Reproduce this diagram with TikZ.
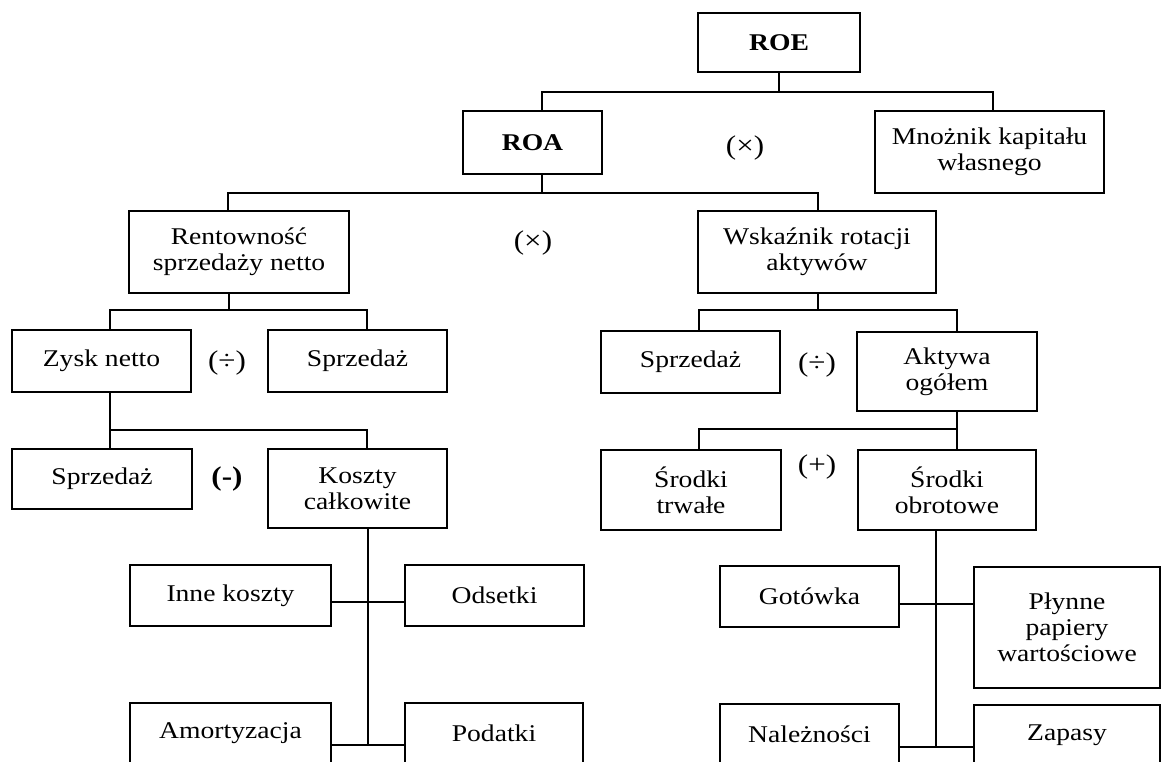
\documentclass[tikz,border=0pt]{standalone}
\usepackage{fontspec}
\setmainfont{Liberation Serif}[FakeStretch=1.15]
\begin{document}
\begin{tikzpicture}[x=1pt,y=-1pt,
  box/.style={draw, line width=1.7pt, inner sep=0pt, align=center, font=\fontsize{24}{26}\selectfont},
  conn/.style={line width=1.3pt},
  op/.style={inner sep=0pt, font=\fontsize{27}{28}\selectfont}]
\clip (0,0) rectangle (1162,762);
\fill[white] (0,0) rectangle (1162,762);
% level 0-1
\node[box, minimum width=162pt, minimum height=59pt] (roe) at (779,42.5) {\textbf{ROE}};
\node[box, minimum width=139pt, minimum height=63pt] (roa) at (532.5,142.5) {\textbf{ROA}};
\node[box, minimum width=229pt, minimum height=82pt] (mno) at (989.5,152) {Mnożnik kapitału\\własnego};
\node[op] (x1) at (745,148) {(×)};
% level 2
\node[box, minimum width=220pt, minimum height=82pt] (ren) at (239,252) {Rentowność\\sprzedaży netto};
\node[box, minimum width=238pt, minimum height=82pt] (wsk) at (817,252) {Wskaźnik rotacji\\aktywów};
\node[op] (x2) at (533,243) {(×)};
% level 3
\node[box, minimum width=179pt, minimum height=62pt] (zysk) at (101.5,361) {Zysk netto};
\node[box, minimum width=179pt, minimum height=62pt] (sp1) at (357.5,361) {Sprzedaż};
\node[op] (d1) at (227,363) {(÷)};
\node[box, minimum width=179pt, minimum height=62pt] (sp2) at (690.5,362) {Sprzedaż};
\node[box, minimum width=180pt, minimum height=79pt] (akt) at (947,371.5) {Aktywa\\ogółem};
\node[op] (d2) at (817,365) {(÷)};
% level 4
\node[box, minimum width=180pt, minimum height=60pt] (sp3) at (102,479) {Sprzedaż};
\node[box, minimum width=179pt, minimum height=79pt] (kos) at (357.5,488.5) {Koszty\\całkowite};
\node[op] (m1) at (227,479) {\textbf{(-)}};
\node[box, minimum width=180pt, minimum height=80pt] (st) at (691,490) {Środki\\trwałe};
\node[box, minimum width=178pt, minimum height=80pt] (so) at (947,490) {Środki\\obrotowe};
\node[op] (p1) at (817,467) {(+)};
% level 5
\node[box, minimum width=201pt, minimum height=61pt] (inne) at (230.5,595.5) {Inne koszty};
\node[box, minimum width=179pt, minimum height=61pt] (ods) at (494.5,595.5) {Odsetki};
\node[box, minimum width=179pt, minimum height=61pt] (got) at (809.5,596.5) {Gotówka};
\node[box, minimum width=186pt, minimum height=121pt] (pap) at (1067,627.5) {Płynne\\papiery\\wartościowe};
% level 6 (cut off at the bottom)
\node[box, minimum width=201pt, minimum height=61pt] (amo) at (230.5,733.5) {Amortyzacja};
\node[box, minimum width=178pt, minimum height=61pt] (pod) at (494,733.5) {Podatki};
\node[box, minimum width=179pt, minimum height=61pt] (nal) at (809.5,734.5) {Należności};
\node[box, minimum width=186pt, minimum height=61pt] (zap) at (1067,735.5) {Zapasy};
% junctions
\coordinate (j1) at (779,92);
\coordinate (j2) at (542,193);
\coordinate (j3) at (229,310);
\coordinate (j4) at (818,310);
\coordinate (j5) at (110,430);
\coordinate (j6) at (957,429);
\coordinate (j7) at (368,745);
\coordinate (j8) at (936,747);
% connectors
\draw[conn] (roe.south) -- (j1);
\draw[conn] ([xshift=9.5pt]roa.north) |- (j1) -| ([xshift=3.5pt]mno.north);
\draw[conn] ([xshift=9.5pt]roa.south) -- (j2);
\draw[conn] ([xshift=-11pt]ren.north) |- (j2) -| ([xshift=1pt]wsk.north);
\draw[conn] ([xshift=-10pt]ren.south) -- (j3);
\draw[conn] ([xshift=8.5pt]zysk.north) |- (j3) -| ([xshift=9.5pt]sp1.north);
\draw[conn] ([xshift=1pt]wsk.south) -- (j4);
\draw[conn] ([xshift=8.5pt]sp2.north) |- (j4) -| ([xshift=10pt]akt.north);
\draw[conn] ([xshift=8.5pt]zysk.south) -- (j5) -- ([xshift=8pt]sp3.north);
\draw[conn] (j5) -| ([xshift=9.5pt]kos.north);
\draw[conn] ([xshift=10pt]akt.south) -- (j6) -- ([xshift=10pt]so.north);
\draw[conn] (j6) -| ([xshift=8pt]st.north);
\draw[conn] ([xshift=10.5pt]kos.south) -- (j7);
\draw[conn] ([yshift=-6.5pt]inne.east) -- ([yshift=-6.5pt]ods.west);
\draw[conn] (amo.east |- j7) -- (pod.west |- j7);
\draw[conn] ([xshift=-11pt]so.south) -- (j8);
\draw[conn] ([yshift=-7.5pt]got.east) -- ([yshift=-7.5pt]pap.west |- got.east);
\draw[conn] (nal.east |- j8) -- (zap.west |- j8);
\end{tikzpicture}
\end{document}
